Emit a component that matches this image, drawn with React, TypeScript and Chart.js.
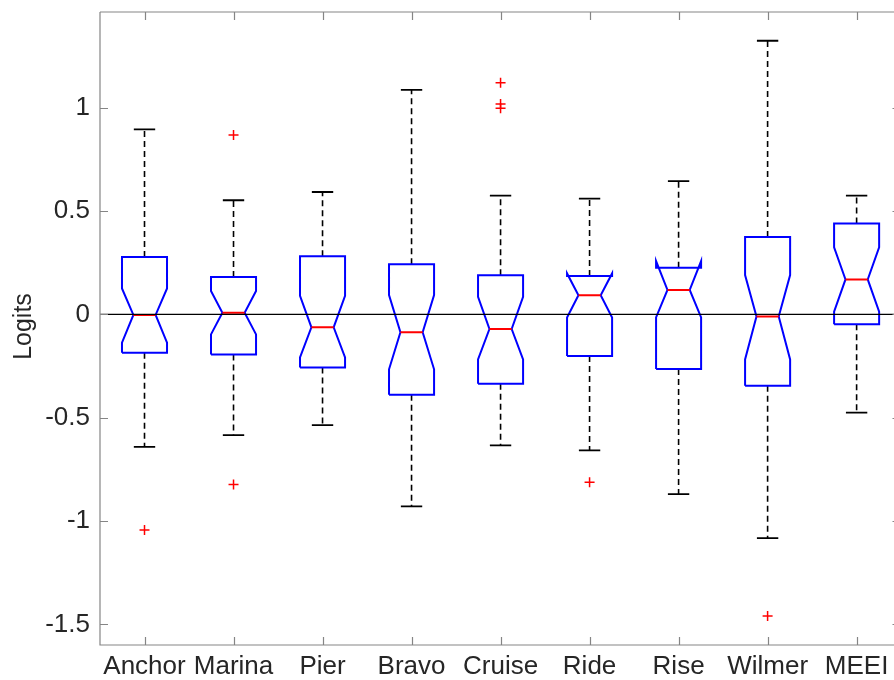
import React, { useEffect, useRef } from 'react';
import { Chart, registerables } from 'chart.js';

Chart.register(...registerables);

const categories = ['Anchor', 'Marina', 'Pier', 'Bravo', 'Cruise', 'Ride', 'Rise', 'Wilmer', 'MEEI'];
const whiskerHigh = [0.895, 0.552, 0.592, 1.086, 0.574, 0.56, 0.645, 1.324, 0.574];
const q3 = [0.277, 0.181, 0.281, 0.242, 0.189, 0.185, 0.226, 0.374, 0.44];
const notchHigh = [0.125, 0.113, 0.09, 0.093, 0.085, 0.198, 0.258, 0.19, 0.324];
const median = [-0.003, 0.008, -0.063, -0.087, -0.071, 0.092, 0.118, -0.01, 0.169];
const notchLow = [-0.137, -0.097, -0.208, -0.266, -0.218, -0.015, -0.015, -0.218, 0.013];
const q1 = [-0.186, -0.194, -0.257, -0.389, -0.336, -0.202, -0.265, -0.345, -0.048];
const whiskerLow = [-0.641, -0.584, -0.536, -0.929, -0.634, -0.658, -0.87, -1.083, -0.476];
const outlierCategory = [1, 2, 2, 5, 5, 5, 6, 8];
const outlierValue = [-1.044, 0.868, -0.823, 1.121, 1.018, 0.997, -0.812, -1.46];
const yTicks = [-1.5, -1, -0.5, 0, 0.5, 1];
const referenceLine = 0;

const FONT = "'Liberation Sans', Arial, Helvetica, sans-serif";
const BOX_HALF = 0.253;
const NOTCH_HALF = 0.125;
const CAP_HALF = 0.12;
const X_MIN = 0.5;
const X_MAX = 9.42;

type P = { x: number; y: number | null };

function buildOutlines(): P[] {
  const pts: P[] = [];
  categories.forEach((_, i) => {
    const c = i + 1;
    const L = c - BOX_HALF;
    const R = c + BOX_HALF;
    pts.push(
      { x: L, y: q1[i] },
      { x: L, y: notchLow[i] },
      { x: c - NOTCH_HALF, y: median[i] },
      { x: L, y: notchHigh[i] },
      { x: L, y: q3[i] },
      { x: R, y: q3[i] },
      { x: R, y: notchHigh[i] },
      { x: c + NOTCH_HALF, y: median[i] },
      { x: R, y: notchLow[i] },
      { x: R, y: q1[i] },
      { x: L, y: q1[i] },
      { x: c, y: null }
    );
  });
  return pts;
}

function buildMedians(): P[] {
  const pts: P[] = [];
  categories.forEach((_, i) => {
    const c = i + 1;
    pts.push({ x: c - NOTCH_HALF, y: median[i] }, { x: c + NOTCH_HALF, y: median[i] }, { x: c, y: null });
  });
  return pts;
}

function buildWhiskers(): P[] {
  const pts: P[] = [];
  categories.forEach((_, i) => {
    const c = i + 1;
    pts.push({ x: c, y: q3[i] }, { x: c, y: whiskerHigh[i] }, { x: c + 0.01, y: null });
    pts.push({ x: c, y: q1[i] }, { x: c, y: whiskerLow[i] }, { x: c + 0.01, y: null });
  });
  return pts;
}

function buildCaps(): P[] {
  const pts: P[] = [];
  categories.forEach((_, i) => {
    const c = i + 1;
    pts.push({ x: c - CAP_HALF, y: whiskerHigh[i] }, { x: c + CAP_HALF, y: whiskerHigh[i] }, { x: c, y: null });
    pts.push({ x: c - CAP_HALF, y: whiskerLow[i] }, { x: c + CAP_HALF, y: whiskerLow[i] }, { x: c, y: null });
  });
  return pts;
}

const axisPlugin = {
  id: 'matlabAxes',
  afterDraw(chart: any) {
    const { ctx, chartArea } = chart;
    const { left, right, top, bottom } = chartArea;
    const xs = chart.scales.x;
    const ys = chart.scales.y;
    ctx.save();
    ctx.strokeStyle = '#858585';
    ctx.lineWidth = 1.2;
    ctx.beginPath();
    ctx.moveTo(left, top);
    ctx.lineTo(right, top);
    ctx.moveTo(left, top);
    ctx.lineTo(left, bottom);
    ctx.lineTo(right, bottom);
    const tl = 8;
    xs.ticks.forEach((t: any) => {
      const px = Math.round(xs.getPixelForValue(t.value)) + 0.5;
      ctx.moveTo(px, bottom);
      ctx.lineTo(px, bottom - tl);
      ctx.moveTo(px, top);
      ctx.lineTo(px, top + tl);
    });
    ys.ticks.forEach((t: any) => {
      const py = Math.round(ys.getPixelForValue(t.value)) + 0.5;
      ctx.moveTo(left, py);
      ctx.lineTo(left + tl, py);
      ctx.moveTo(right, py);
      ctx.lineTo(right - 1.5, py);
    });
    ctx.stroke();
    ctx.translate(24, (top + bottom) / 2 - 2);
    ctx.rotate(-Math.PI / 2);
    ctx.fillStyle = '#262626';
    ctx.font = `25px ${FONT}`;
    ctx.textAlign = 'center';
    ctx.textBaseline = 'middle';
    ctx.fillText('Logits', 0, 0);
    ctx.restore();
  },
};

export default function App() {
  const ref = useRef<HTMLCanvasElement>(null);
  useEffect(() => {
    document.body.style.margin = '0';
    const chart = new Chart(ref.current as HTMLCanvasElement, {
      type: 'line',
      data: {
        datasets: [
          {
            label: 'zero',
            data: [
              { x: X_MIN, y: referenceLine },
              { x: X_MAX, y: referenceLine },
            ],
            borderColor: '#000000',
            borderWidth: 1.3,
            pointRadius: 0,
            order: 0,
          },
          {
            label: 'outliers',
            data: outlierValue.map((v, i) => ({ x: outlierCategory[i], y: v })),
            showLine: false,
            pointStyle: 'cross',
            pointRadius: 5,
            borderColor: '#ff0000',
            backgroundColor: '#ff0000',
            pointBorderWidth: 1.5,
            order: 0,
          },
          {
            label: 'median',
            data: buildMedians(),
            borderColor: '#ff0000',
            borderWidth: 2,
            pointRadius: 0,
            spanGaps: false,
            order: 1,
          },
          {
            label: 'box',
            data: buildOutlines(),
            borderColor: '#0000ff',
            borderWidth: 2,
            pointRadius: 0,
            spanGaps: false,
            order: 2,
          },
          {
            label: 'whisker',
            data: buildWhiskers(),
            borderColor: '#000000',
            borderWidth: 1.6,
            borderDash: [6, 4],
            pointRadius: 0,
            spanGaps: false,
            order: 3,
          },
          {
            label: 'cap',
            data: buildCaps(),
            borderColor: '#000000',
            borderWidth: 1.8,
            pointRadius: 0,
            spanGaps: false,
            order: 3,
          },
        ] as any,
      },
      options: {
        responsive: false,
        animation: false,
        layout: { autoPadding: false, padding: { top: 12, left: 0, right: 0, bottom: 0 } },
        elements: { line: { tension: 0 } },
        plugins: { legend: { display: false }, tooltip: { enabled: false } },
        scales: {
          x: {
            type: 'linear',
            min: X_MIN,
            max: X_MAX,
            grid: { display: false, drawTicks: false },
            border: { display: false },
            afterBuildTicks: (s: any) => {
              s.ticks = categories.map((_, i) => ({ value: i + 1 }));
            },
            afterFit: (s: any) => {
              s.height = 35;
              s.paddingLeft = 0;
              s.paddingRight = 0;
            },
            ticks: {
              autoSkip: false,
              maxRotation: 0,
              padding: 6,
              color: '#262626',
              font: { family: FONT, size: 26 },
              callback: (v: any) => categories[Math.round(Number(v)) - 1] ?? '',
            },
          },
          y: {
            type: 'linear',
            min: -1.6,
            max: 1.463,
            grid: { display: false, drawTicks: false },
            border: { display: false },
            afterBuildTicks: (s: any) => {
              s.ticks = yTicks.map((v) => ({ value: v }));
            },
            afterFit: (s: any) => {
              s.width = 100;
              s.paddingTop = 0;
              s.paddingBottom = 0;
            },
            ticks: {
              padding: 10,
              color: '#262626',
              font: { family: FONT, size: 26 },
              callback: (v: any) => String(v),
            },
          },
        },
      },
      plugins: [axisPlugin],
    });
    return () => chart.destroy();
  }, []);
  return <canvas ref={ref} width={894} height={680} style={{ display: 'block' }} />;
}
